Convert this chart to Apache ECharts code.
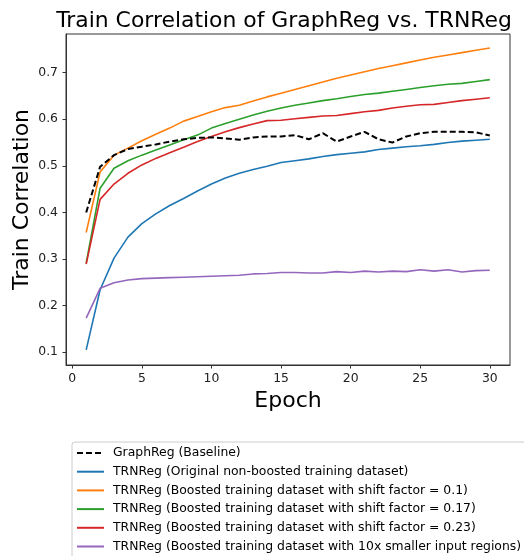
<!DOCTYPE html>
<html>
<head>
<meta charset="utf-8">
<title>Train Correlation</title>
<script src="https://cdn.jsdelivr.net/npm/echarts@6/dist/echarts.min.js"></script>
<style>
  html, body { margin: 0; padding: 0; background: #fff; }
  #chart { width: 524px; height: 556px; }
</style>
</head>
<body>
<div id="chart"></div>
<script>
// epochs 1..30
var epochs = [1,2,3,4,5,6,7,8,9,10,11,12,13,14,15,16,17,18,19,20,21,22,23,24,25,26,27,28,29,30];

var graphReg = [0.400,0.498,0.523,0.536,0.541,0.546,0.552,0.557,0.560,0.561,0.559,0.556,0.561,0.563,0.563,0.566,0.557,0.570,0.552,0.563,0.573,0.557,0.550,0.563,0.570,0.573,0.573,0.573,0.572,0.565];
var trnOriginal = [0.105,0.234,0.302,0.347,0.376,0.397,0.415,0.430,0.446,0.461,0.474,0.484,0.492,0.499,0.507,0.511,0.515,0.520,0.524,0.527,0.530,0.535,0.538,0.541,0.543,0.546,0.550,0.553,0.555,0.557];
var trnShift01 = [0.357,0.487,0.523,0.538,0.554,0.568,0.581,0.596,0.606,0.616,0.625,0.630,0.639,0.648,0.656,0.664,0.672,0.680,0.688,0.695,0.702,0.709,0.715,0.721,0.727,0.733,0.738,0.743,0.748,0.753];
var trnShift017 = [0.291,0.452,0.495,0.511,0.523,0.534,0.545,0.556,0.566,0.581,0.591,0.600,0.609,0.617,0.624,0.630,0.635,0.640,0.644,0.649,0.653,0.656,0.660,0.664,0.668,0.672,0.675,0.677,0.681,0.685];
var trnShift023 = [0.289,0.428,0.461,0.484,0.502,0.516,0.528,0.540,0.552,0.563,0.573,0.582,0.590,0.597,0.598,0.601,0.604,0.607,0.608,0.612,0.616,0.619,0.624,0.628,0.631,0.632,0.636,0.640,0.643,0.646];
var trnSmaller = [0.173,0.237,0.249,0.255,0.258,0.259,0.260,0.261,0.262,0.263,0.264,0.265,0.268,0.269,0.271,0.271,0.270,0.270,0.273,0.271,0.274,0.272,0.274,0.273,0.277,0.274,0.277,0.272,0.275,0.276];

var seriesNames = [
    'GraphReg (Baseline)',
    'TRNReg (Original non-boosted training dataset)',
    'TRNReg (Boosted training dataset with shift factor = 0.1)',
    'TRNReg (Boosted training dataset with shift factor = 0.17)',
    'TRNReg (Boosted training dataset with shift factor = 0.23)',
    'TRNReg (Boosted training dataset with 10x smaller input regions)'
];
var seriesColors = ['#000000', '#1f77b4', '#ff7f0e', '#2ca02c', '#d62728', '#9467bd'];

var xTicks = [0, 5, 10, 15, 20, 25, 30];
var yTicks = [0.1, 0.2, 0.3, 0.4, 0.5, 0.6, 0.7];

function pairs(vals) {
    return epochs.map(function (e, i) { return [e, vals[i]]; });
}

var allValues = [graphReg, trnOriginal, trnShift01, trnShift017, trnShift023, trnSmaller];

var myChart = echarts.init(document.getElementById('chart'));

var font = 'DejaVu Sans';

myChart.setOption({
    backgroundColor: '#ffffff',
    animation: false,
    textStyle: { fontFamily: font },
    title: {
        text: 'Train Correlation of GraphReg vs. TRNReg',
        left: 279,
        textAlign: 'center',
        top: 5,
        textStyle: { fontFamily: font, fontSize: 21.9, fontWeight: 'normal', color: '#000' }
    },
    grid: {
        left: 66,
        right: 14,
        top: 34,
        bottom: 191,
        outerBoundsMode: 'none',
        containLabel: false,
        show: true,
        borderColor: '#333',
        borderWidth: 1,
        backgroundColor: 'transparent'
    },
    legend: {
        type: 'plain',
        orient: 'vertical',
        left: 72,
        top: 442,
        height: 140,
        padding: [5, 8, 8, 4],
        itemWidth: 27,
        itemHeight: 12,
        itemGap: 6.7,
        borderColor: '#cccccc',
        borderWidth: 1,
        borderRadius: 3,
        backgroundColor: '#fff',
        itemStyle: { opacity: 0 },
        textStyle: { fontFamily: font, fontSize: 12.4, lineHeight: 12, color: '#000', padding: [0, 0, 0, 4] },
        data: seriesNames
    },
    xAxis: {
        type: 'value',
        min: -0.45,
        max: 31.45,
        name: 'Epoch',
        nameLocation: 'middle',
        nameGap: 24,
        nameTextStyle: { fontFamily: font, fontSize: 22, color: '#000' },
        axisLine: { show: true, onZero: false, lineStyle: { color: '#333' } },
        axisTick: { show: true, inside: false, length: 3.5, customValues: xTicks, lineStyle: { color: '#333' } },
        axisLabel: { customValues: xTicks, margin: 8, fontSize: 12.4, color: '#222', fontFamily: font },
        splitLine: { show: false }
    },
    yAxis: {
        type: 'value',
        min: 0.0725,
        max: 0.783,
        name: 'Train Correlation',
        nameLocation: 'middle',
        nameGap: 33,
        nameMoveOverlap: false,
        nameTextStyle: { fontFamily: font, fontSize: 22, color: '#000' },
        axisLine: { show: true, onZero: false, lineStyle: { color: '#333' } },
        axisTick: { show: true, inside: false, length: 3.5, customValues: yTicks, lineStyle: { color: '#333' } },
        axisLabel: {
            customValues: yTicks, margin: 8, fontSize: 12.4, color: '#222', fontFamily: font,
            formatter: function (v) { return v.toFixed(1); }
        },
        splitLine: { show: false }
    },
    series: seriesNames.map(function (name, i) {
        return {
            name: name,
            type: 'line',
            data: pairs(allValues[i]),
            symbol: 'none',
            showSymbol: false,
            smooth: false,
            z: i === 0 ? 10 : 3,
            itemStyle: { color: seriesColors[i] },
            lineStyle: {
                color: seriesColors[i],
                width: i === 0 ? 2 : 1.6,
                type: i === 0 ? [6, 3] : 'solid'
            }
        };
    })
});
</script>
</body>
</html>
